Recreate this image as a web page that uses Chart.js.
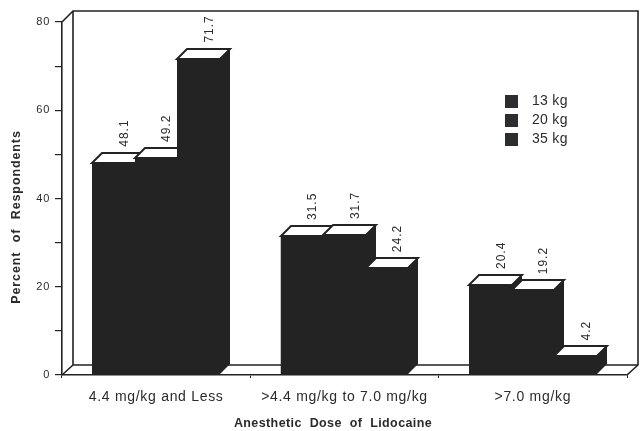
<!DOCTYPE html>
<html><head><meta charset="utf-8">
<style>html,body{margin:0;padding:0;background:#fff}canvas{display:block}</style>
<script src="https://cdn.jsdelivr.net/npm/chart.js@4"></script>
</head><body><canvas id="c" width="644" height="431"></canvas>
<script>
const categories = ["4.4 mg/kg and Less", ">4.4 mg/kg to 7.0 mg/kg", ">7.0 mg/kg"];
const seriesNames = ["13 kg", "20 kg", "35 kg"];
const values13 = [48.1, 31.5, 20.4];
const values20 = [49.2, 31.7, 19.2];
const values35 = [71.7, 24.2, 4.2];
const yTitle = "Percent of Respondents";
const xTitle = "Anesthetic Dose of Lidocaine";

const INK = "#222";
const BAR = "#232323";
const TEXT = "#2b2b2b";
const FONT = '"Liberation Sans", Arial, sans-serif';
const DX = 10, DY = 10;

const threeD = {
  id: "threeD",
  beforeDraw(chart) { chart.ctx.letterSpacing = "0.7px"; },
  beforeDatasetsDraw(chart) {
    const { ctx, chartArea: a } = chart;
    ctx.save();
    ctx.strokeStyle = INK; ctx.lineWidth = 1.6;
    ctx.beginPath();
    ctx.moveTo(a.left, a.top); ctx.lineTo(a.left + 11, a.top - 11);
    ctx.lineTo(a.right + 11, a.top - 11);
    ctx.lineTo(a.right + 11, a.bottom - 10);
    ctx.lineTo(a.right, a.bottom);
    ctx.moveTo(a.left + 11, a.top - 11); ctx.lineTo(a.left + 11, a.bottom - 10);
    ctx.lineTo(a.right + 11, a.bottom - 10);
    ctx.moveTo(a.left + 11, a.bottom - 10); ctx.lineTo(a.left, a.bottom);
    ctx.stroke();
    ctx.restore();
  },
  afterDatasetsDraw(chart) {
    const { ctx } = chart;
    ctx.save();
    chart.data.datasets.forEach((ds, di) => {
      chart.getDatasetMeta(di).data.forEach((bar, i) => {
        const p = bar.getProps(["x", "y", "base", "width"], true);
        const L = Math.round(p.x - p.width / 2), R = Math.round(p.x + p.width / 2);
        const T = Math.round(p.y), B = Math.round(p.base);
        ctx.fillStyle = BAR;
        ctx.fillRect(L, T, R - L, B - T);
        ctx.beginPath();
        ctx.moveTo(R, T); ctx.lineTo(R + DX, T - DY);
        ctx.lineTo(R + DX, B - DY); ctx.lineTo(R, B);
        ctx.closePath(); ctx.fill();
        ctx.beginPath();
        ctx.moveTo(L, T); ctx.lineTo(L + DX, T - DY);
        ctx.lineTo(R + DX, T - DY); ctx.lineTo(R, T);
        ctx.closePath();
        ctx.fillStyle = "#fff"; ctx.fill();
        ctx.strokeStyle = BAR; ctx.lineWidth = 2; ctx.stroke();
      });
    });
    ctx.fillStyle = TEXT;
    ctx.font = "12px " + FONT;
    ctx.textAlign = "left"; ctx.textBaseline = "middle";
    chart.data.datasets.forEach((ds, di) => {
      chart.getDatasetMeta(di).data.forEach((bar, i) => {
        const p = bar.getProps(["x", "y"], true);
        ctx.save();
        ctx.translate(p.x + DX + 1, p.y - DY - 6);
        ctx.rotate(-Math.PI / 2);
        ctx.letterSpacing = "1px";
        ctx.fillText(ds.data[i].toFixed(1), 0, 0);
        ctx.restore();
      });
    });
    ctx.restore();
  },
  afterDraw(chart) {
    const { ctx } = chart;
    ctx.save();
    // legend
    ctx.textBaseline = "middle"; ctx.textAlign = "left";
    ctx.font = "14px " + FONT;
    ctx.letterSpacing = "0.3px";
    chart.data.datasets.forEach((ds, i) => {
      const y = 101.5 + i * 19;
      ctx.fillStyle = "#2a2e2e";
      ctx.fillRect(505, y - 6.5, 13, 13);
      ctx.fillStyle = TEXT;
      ctx.fillText(ds.label, 532, y);
    });
    // axis titles
    ctx.font = "bold 12.5px " + FONT;
    ctx.letterSpacing = "0.4px"; ctx.wordSpacing = "4px";
    ctx.textAlign = "center";
    ctx.fillText(xTitle, 333, 424);
    ctx.translate(17, 217);
    ctx.rotate(-Math.PI / 2);
    ctx.letterSpacing = "0.9px"; ctx.wordSpacing = "5px";
    ctx.fillText(yTitle, 0, 0);
    ctx.restore();
  }
};

new Chart(document.getElementById("c"), {
  type: "bar",
  data: {
    labels: categories,
    datasets: [
      { label: seriesNames[0], data: values13, backgroundColor: BAR },
      { label: seriesNames[1], data: values20, backgroundColor: BAR },
      { label: seriesNames[2], data: values35, backgroundColor: BAR }
    ]
  },
  plugins: [threeD],
  options: {
    responsive: false, animation: false,
    layout: { padding: { left: 0, right: 17, top: 22, bottom: 0 } },
    plugins: { legend: { display: false }, tooltip: { enabled: false } },
    datasets: { bar: { categoryPercentage: 0.677, barPercentage: 1 } },
    scales: {
      x: {
        afterFit(s) { s.height = 56; },
        grid: { drawOnChartArea: false, tickLength: 3, color: INK, lineWidth: 1 },
        border: { color: INK, width: 1.6 },
        ticks: { color: TEXT, font: { family: FONT, size: 14 }, padding: 11, maxRotation: 0, autoSkip: false }
      },
      y: {
        min: 0, max: 80,
        afterFit(s) { s.width = 62; },
        grid: { drawOnChartArea: false, tickLength: 7, color: INK, lineWidth: 1.2 },
        border: { color: INK, width: 1.6 },
        ticks: { stepSize: 10, color: TEXT, font: { family: FONT, size: 11 }, padding: 5,
          callback: v => (v % 20 === 0 ? String(v) : "") }
      }
    }
  }
});
</script></body></html>
